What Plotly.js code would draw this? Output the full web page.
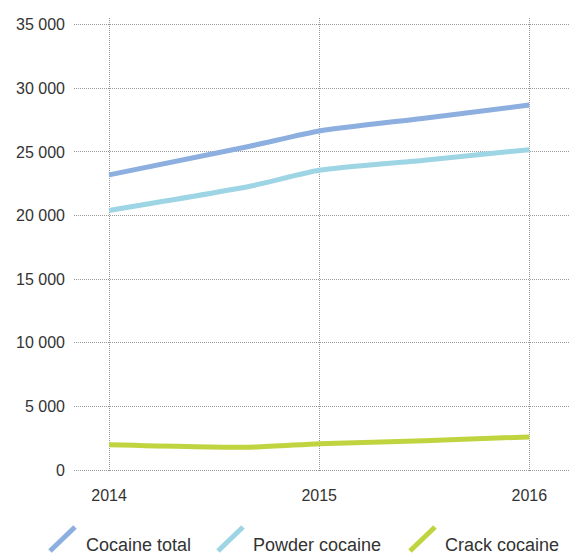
<!DOCTYPE html>
<html>
<head>
<meta charset="utf-8">
<script src="https://cdn.plot.ly/plotly-3.0.1.min.js"></script>
<style>html,body{margin:0;padding:0;background:#fff;}#chart{width:569px;height:554px;}</style>
</head>
<body>
<div id="chart"></div>
<script>
// Data
var xPoints = [2014, 2014.67, 2015, 2015.5, 2016];
var cocaineTotal = [23200, 25450, 26650, 27650, 28690];
var powderCocaine = [20400, 22300, 23560, 24350, 25180];
var crackCocaine = [1990, 1790, 2070, 2300, 2600];
var seriesNames = ['Cocaine total', 'Powder cocaine', 'Crack cocaine'];
var seriesColors = ['#8cafdf', '#9dd5e5', '#bfd43f'];
var xTickVals = [2014, 2015, 2016];
var xTickText = ['2014', '2015', '2016'];
var yTickVals = [0, 5000, 10000, 15000, 20000, 25000, 30000, 35000];
var yTickText = ['0', '5 000', '10 000', '15 000', '20 000', '25 000', '30 000', '35 000'];

var W = 569, H = 554;
var mL = 74, mR = 0, mT = 18, mB = 82;
var allY = [cocaineTotal, powderCocaine, crackCocaine];

var traces = allY.map(function (ys, i) {
  return {
    x: xPoints, y: ys, type: 'scatter', mode: 'lines', name: seriesNames[i],
    line: {color: seriesColors[i], width: 5, shape: 'spline', smoothing: 0.6},
    hoverinfo: 'skip', showlegend: false
  };
});

function px2paperX(p) { return (p - mL) / (W - mL - mR); }
function px2paperY(p) { return (H - mB - p) / (H - mT - mB); }

var legendSym = [50, 218, 410];
var legendTxt = [84, 251, 443];
var shapes = [], annotations = [];
for (var i = 0; i < seriesNames.length; i++) {
  shapes.push({
    type: 'line', xref: 'paper', yref: 'paper',
    x0: px2paperX(legendSym[i]), y0: px2paperY(551),
    x1: px2paperX(legendSym[i] + 25), y1: px2paperY(527),
    line: {color: seriesColors[i], width: 5}
  });
  annotations.push({
    xref: 'paper', yref: 'paper', x: px2paperX(legendTxt[i]), y: px2paperY(545),
    xanchor: 'left', yanchor: 'middle', showarrow: false, text: seriesNames[i],
    font: {family: 'Liberation Sans, Arial, sans-serif', size: 18, color: '#333'}
  });
}

var layout = {
  width: W, height: H,
  margin: {l: mL, r: mR, t: mT, b: mB, pad: 0},
  paper_bgcolor: '#fff', plot_bgcolor: '#fff',
  showlegend: false,
  font: {family: 'Liberation Sans, Arial, sans-serif', size: 16, color: '#333'},
  xaxis: {
    range: [2013.833, 2016.189], tickvals: xTickVals, ticktext: xTickText,
    showgrid: true, gridcolor: '#999', griddash: '1px,1px', gridwidth: 1,
    zeroline: false, showline: false, ticks: '', ticklabelstandoff: 12,
    tickfont: {size: 16, color: '#333'}, fixedrange: true
  },
  yaxis: {
    range: [-157, 35528], tickvals: yTickVals, ticktext: yTickText,
    showgrid: true, gridcolor: '#999', griddash: '1px,1px', gridwidth: 1,
    zeroline: false, showline: false, ticks: '', ticklabelstandoff: 8,
    tickfont: {size: 16, color: '#333'}, fixedrange: true
  },
  shapes: shapes,
  annotations: annotations
};

Plotly.newPlot('chart', traces, layout, {displayModeBar: false, staticPlot: true});
</script>
</body>
</html>
